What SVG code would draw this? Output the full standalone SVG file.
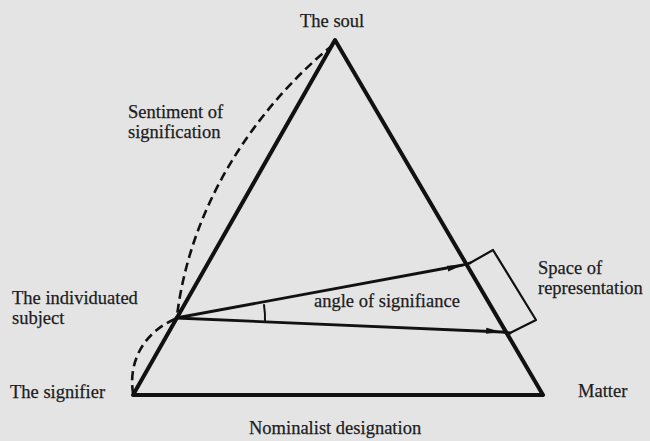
<svg xmlns="http://www.w3.org/2000/svg" width="650" height="441" viewBox="0 0 650 441">
<defs>
<style>
text{font-size:18.5px;fill:#1c1c1c;stroke:#1c1c1c;stroke-width:0.25}
.edge{fill:none;stroke:#111;stroke-linejoin:round;stroke-linecap:round}
.dash{fill:none;stroke:#111;stroke-width:2.6;stroke-dasharray:9 5}
</style>
<marker id="ah" viewBox="0 0 16 7" refX="16" refY="3.5" markerWidth="16" markerHeight="7" markerUnits="userSpaceOnUse" orient="auto">
<path d="M0,0.5 L16,3.5 L0,6.5 Z" fill="#111"/>
</marker>
</defs>
<rect width="650" height="441" fill="#e4e4e4"/>
<g id="connectors">
<path id="triangle" class="edge" stroke-width="4" stroke-linejoin="miter" d="M133,395 L335,40 L543,395 Z"/>
<path id="arrow-upper" class="edge" stroke-width="2.8" marker-mid="url(#ah)" d="M176,318 L463,265 L470,263"/>
<path id="arrow-lower" class="edge" stroke-width="2.8" marker-mid="url(#ah)" d="M176,318 L502,332 L510,333"/>
<path id="angle-arc" class="edge" stroke-width="2" d="M264,305 A90,90 0 0 1 265,322"/>
<path id="sentiment-arc" class="dash" d="M333,45 C295,75 195,170 177,316"/>
<path id="lower-arc" class="dash" d="M175,319 C145,332 128,360 133,393"/>
</g>
<g font-family="Liberation Serif, DejaVu Serif, serif">
<g id="space-of-representation">
<path class="edge" stroke-width="2.2" d="M470,263 L493,250 L536,320 L510,333"/>
<text x="538" y="274">Space of</text>
<text x="538" y="294">representation</text>
</g>
<g id="the-soul"><text x="300" y="27">The soul</text></g>
<g id="sentiment"><text x="128" y="118">Sentiment of</text><text x="128" y="138">signification</text></g>
<g id="individuated-subject"><text x="12" y="304">The individuated</text><text x="12" y="324">subject</text></g>
<g id="the-signifier"><text x="10" y="398">The signifier</text></g>
<g id="matter"><text x="578" y="397">Matter</text></g>
<g id="nominalist"><text x="249" y="434">Nominalist designation</text></g>
<g id="angle-label"><text x="314" y="307">angle of signifiance</text></g>
</g>
</svg>
